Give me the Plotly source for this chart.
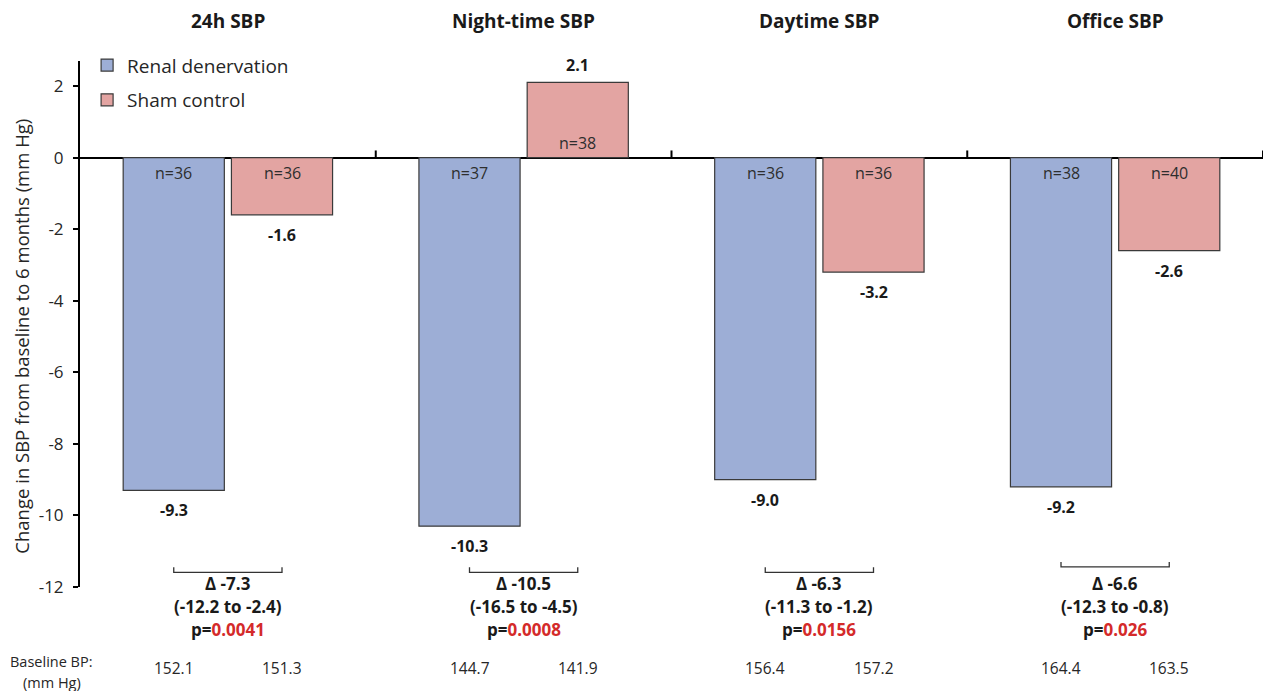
import plotly.graph_objects as go

# ---- data ----
categories = ["24h SBP", "Night-time SBP", "Daytime SBP", "Office SBP"]
rdn_change = [-9.3, -10.3, -9.0, -9.2]
sham_change = [-1.6, 2.1, -3.2, -2.6]
rdn_n = [36, 37, 36, 38]
sham_n = [36, 38, 36, 40]
delta = ["-7.3", "-10.5", "-6.3", "-6.6"]
ci = ["(-12.2 to -2.4)", "(-16.5 to -4.5)", "(-11.3 to -1.2)", "(-12.3 to -0.8)"]
p_values = ["0.0041", "0.0008", "0.0156", "0.026"]
rdn_baseline = ["152.1", "144.7", "156.4", "164.4"]
sham_baseline = ["151.3", "141.9", "157.2", "163.5"]
y_ticks = [-12, -10, -8, -6, -4, -2, 0, 2]

FONT = "Open Sans"
RDN_COLOR = "#9DAED6"
SHAM_COLOR = "#E3A4A2"
EDGE = "#3A3A3A"
TXT = "#1A1A1A"

xs = list(range(len(categories)))
W = 0.342
GAP = 0.012

fig = go.Figure()
fig.add_trace(go.Bar(
    x=xs, y=rdn_change, name="Renal denervation", width=W, offset=-(W + GAP),
    marker=dict(color=RDN_COLOR, line=dict(color=EDGE, width=1.2)),
    legendgroup="a", hoverinfo="skip"))
fig.add_trace(go.Bar(
    x=xs, y=sham_change, name="Sham control", width=W, offset=GAP,
    marker=dict(color=SHAM_COLOR, line=dict(color=EDGE, width=1.2)),
    legendgroup="b", hoverinfo="skip"))

ann = []
shapes = []
c_rdn = -(W / 2 + GAP)
c_sham = W / 2 + GAP

for i in xs:
    # group titles
    ann.append(dict(x=i, y=1.0755, xref="x", yref="paper", text=f"<b>{categories[i]}</b>",
                    showarrow=False, font=dict(size=19, color=TXT, family=FONT),
                    xanchor="center", yanchor="middle"))
    for cx, val, n in ((c_rdn, rdn_change[i], rdn_n[i]), (c_sham, sham_change[i], sham_n[i])):
        sgn = 1 if val >= 0 else -1
        ann.append(dict(x=i + cx, y=val, xref="x", yref="y", text=f"<b>{val:.1f}</b>",
                        showarrow=False, font=dict(size=16, color=TXT, family=FONT),
                        xanchor="center", yanchor="middle", yshift=17 if sgn > 0 else -20))
        ann.append(dict(x=i + cx, y=0, xref="x", yref="y", text=f"n={n}",
                        showarrow=False, font=dict(size=16, color="#2E2E2E", family=FONT),
                        xanchor="center", yanchor="middle", yshift=15 * sgn))
    # delta bracket
    yb_top = -11.3 if i == 3 else -11.45
    yb_bot = yb_top - 0.14
    shapes.append(dict(type="path", xref="x", yref="y",
                       path=f"M {i + c_rdn},{yb_top} L {i + c_rdn},{yb_bot} L {i + c_sham},{yb_bot} L {i + c_sham},{yb_top}",
                       line=dict(color="#333333", width=1.3)))
    ann.append(dict(x=i, y=0.006, xref="x", yref="paper", text=f"<b>\u0394 {delta[i]}</b>",
                    showarrow=False, font=dict(size=17, color=TXT, family=FONT),
                    xanchor="center", yanchor="middle"))
    ann.append(dict(x=i, y=-0.038, xref="x", yref="paper", text=f"<b>{ci[i]}</b>",
                    showarrow=False, font=dict(size=17, color=TXT, family=FONT),
                    xanchor="center", yanchor="middle"))
    ann.append(dict(x=i, y=-0.080, xref="x", yref="paper",
                    text=f"<b>p=<span style='color:#D42A2A'>{p_values[i]}</span></b>",
                    showarrow=False, font=dict(size=17, color=TXT, family=FONT),
                    xanchor="center", yanchor="middle"))
    # baseline values
    for cx, b in ((c_rdn, rdn_baseline[i]), (c_sham, sham_baseline[i])):
        ann.append(dict(x=i + cx, y=-0.154, xref="x", yref="paper", text=b,
                        showarrow=False, font=dict(size=15.5, color="#262626", family=FONT),
                        xanchor="center", yanchor="middle"))
    # category separator ticks on zero line
    shapes.append(dict(type="line", xref="x", yref="y", x0=i + 0.5, x1=i + 0.5, y0=0, y1=0.2,
                       line=dict(color="black", width=2)))

ann.append(dict(x=-0.0237, y=-0.1425, xref="paper", yref="paper", text="Baseline BP:",
                showarrow=False, font=dict(size=14.5, color="#262626", family=FONT),
                xanchor="center", yanchor="middle"))
ann.append(dict(x=-0.0237, y=-0.1824, xref="paper", yref="paper", text="(mm Hg)",
                showarrow=False, font=dict(size=14.5, color="#262626", family=FONT),
                xanchor="center", yanchor="middle"))
ann.append(dict(x=-0.0490, y=0.476, xref="paper", yref="paper",
                text="Change in SBP from baseline to 6 months (mm Hg)", textangle=-90,
                showarrow=False, font=dict(size=18.5, color="#262626", family=FONT),
                xanchor="center", yanchor="middle"))

fig.update_layout(
    width=1265, height=691,
    margin=dict(l=80, r=2, t=61, b=104),
    plot_bgcolor="white", paper_bgcolor="white",
    font=dict(family=FONT, color=TXT),
    showlegend=True,
    legend=dict(x=0.006, y=1.028, xanchor="left", yanchor="top",
                font=dict(size=19, color="#262626", family=FONT),
                tracegroupgap=7, bgcolor="rgba(0,0,0,0)"),
    xaxis=dict(range=[-0.5, 3.5], showticklabels=False, showgrid=False, zeroline=False,
               showline=False, ticks=""),
    yaxis=dict(range=[-12, 2.7], tickvals=y_ticks, ticktext=[str(v) for v in y_ticks],
               showgrid=False, zeroline=True, zerolinecolor="black", zerolinewidth=2,
               showline=True, linecolor="black", linewidth=2,
               ticks="outside", ticklen=5, tickwidth=2, tickcolor="black",
               ticklabelstandoff=6,
               tickfont=dict(size=17, color="#262626", family=FONT)),
    annotations=ann, shapes=shapes,
)

fig.write_html("out.html")
